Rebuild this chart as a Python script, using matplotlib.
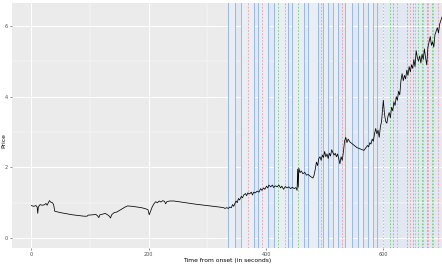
import numpy as np
import matplotlib
matplotlib.use("Agg")
import matplotlib.pyplot as plt

# price path (time in seconds, price)
t = [0, 4, 8, 10, 11, 12, 15, 18, 22, 25, 27, 29, 31, 33, 36, 38, 40, 50, 60, 70,
     80, 90, 95, 97, 105, 110, 113, 115, 117, 122, 126, 130, 133, 135, 137, 141, 146, 150, 155, 160,
     164, 172, 180, 188, 195, 199, 201, 203, 206, 209, 212, 215, 218, 221, 224, 227, 229, 231, 236, 243,
     255, 268, 280, 295, 310, 320, 328, 330, 333, 336, 338, 341, 343, 345, 347, 349, 351, 353, 355, 358,
     360, 362, 365, 367, 369, 372, 375, 377, 379, 382, 385, 388, 391, 393, 396, 398, 401, 403, 405, 408,
     411, 413, 416, 419, 422, 425, 427, 430, 433, 436, 439, 442, 445, 448, 451, 453, 454, 455, 456, 458,
     460, 463, 466, 469, 472, 476, 480, 482, 484, 486, 488, 490, 492, 494, 496, 498, 500, 502, 504, 506,
     508, 510, 512, 514, 516, 518, 520, 522, 524, 526, 528, 530, 532, 534, 536, 538, 540, 543, 546, 549,
     552, 555, 558, 561, 564, 567, 570, 573, 575, 577, 579, 581, 583, 585, 587, 589, 591, 593, 595, 597,
     599, 600, 602, 604, 606, 608, 610, 612, 614, 616, 618, 620, 622, 624, 626, 628, 630, 632, 634, 636,
     638, 640, 642, 644, 646, 648, 650, 652, 654, 656, 658, 660, 662, 664, 666, 668, 670, 672, 674, 676,
     678, 680, 682, 684, 686, 688, 690, 692, 694, 696, 698, 700]
price = [0.92, 0.90, 0.92, 0.88, 0.70, 0.88, 0.95, 0.93, 0.94, 0.98, 0.93, 1.00, 1.06, 1.02, 1.00, 0.95, 0.76, 0.72, 0.69, 0.66,
         0.64, 0.62, 0.62, 0.65, 0.66, 0.67, 0.63, 0.58, 0.66, 0.68, 0.70, 0.66, 0.62, 0.57, 0.66, 0.72, 0.74, 0.78, 0.83, 0.88,
         0.91, 0.90, 0.88, 0.86, 0.83, 0.80, 0.66, 0.75, 0.88, 0.97, 1.03, 1.00, 1.05, 1.02, 1.06, 1.04, 0.97, 1.03, 1.05, 1.05,
         1.02, 0.99, 0.96, 0.93, 0.90, 0.88, 0.86, 0.84, 0.86, 0.84, 0.88, 0.86, 0.95, 0.90, 0.98, 1.05, 1.00, 1.12, 1.08, 1.18,
         1.14, 1.22, 1.26, 1.20, 1.28, 1.25, 1.30, 1.22, 1.30, 1.28, 1.33, 1.30, 1.40, 1.35, 1.42, 1.38, 1.47, 1.42, 1.50, 1.45,
         1.50, 1.43, 1.48, 1.45, 1.50, 1.42, 1.47, 1.38, 1.46, 1.42, 1.45, 1.40, 1.44, 1.40, 1.43, 1.35, 1.95, 1.45, 1.98, 1.85,
         1.90, 1.82, 1.86, 1.78, 1.80, 1.74, 1.70, 1.78, 1.95, 2.15, 2.05, 2.25, 2.30, 2.20, 2.35, 2.28, 2.45, 2.30, 2.38, 2.25,
         2.40, 2.32, 2.50, 2.42, 2.35, 2.40, 2.30, 2.38, 2.25, 2.10, 2.30, 2.20, 2.45, 2.75, 2.85, 2.70, 2.80, 2.72, 2.68, 2.64,
         2.60, 2.56, 2.54, 2.52, 2.50, 2.48, 2.55, 2.62, 2.58, 2.70, 2.66, 2.80, 2.74, 2.95, 3.10, 2.95, 3.05, 2.85, 3.15, 3.30,
         3.70, 3.90, 3.50, 3.30, 3.25, 3.45, 3.55, 3.40, 3.70, 3.60, 3.85, 3.75, 4.00, 3.90, 4.15, 4.05, 4.45, 4.65, 4.45, 4.60,
         4.50, 4.75, 4.60, 4.85, 4.70, 4.90, 4.80, 5.05, 4.85, 5.30, 5.10, 5.00, 5.15, 4.95, 5.20, 5.05, 5.35, 5.10, 4.90, 5.40,
         5.55, 5.70, 5.45, 5.55, 5.40, 5.75, 5.85, 5.95, 5.80, 6.05, 6.15, 6.25]

# event times (seconds)
blue_events = [335, 348, 357, 379, 386, 403, 413, 438, 445, 464, 472, 488, 498, 506, 515,
               523, 535, 547, 556, 566, 574, 583, 590]
red_events = [370, 394, 433, 493, 530, 600, 624, 646, 654, 668, 676, 685, 693]
green_events = [421, 454, 612, 617, 641, 651, 659, 666, 675, 683]

fig = plt.figure(figsize=(4.42, 2.65), dpi=100)
ax = fig.add_axes([0.027, 0.064, 0.973, 0.925])
ax.set_facecolor("#EBEBEB")

# shaded event window
ax.axvspan(blue_events[0], 700, color="#E2E8F1", lw=0, zorder=0.5)
for a, b in zip(blue_events[0::2], blue_events[1::2]):
    ax.axvspan(a, b, color="#E9EDF4", lw=0, zorder=0.6)

for x in blue_events:
    ax.axvline(x, color="#8FB1DE", lw=0.6, zorder=2)
for x in red_events:
    ax.axvline(x, color="#EE9A9C", lw=0.6, ls=(0, (2, 2)), zorder=2)
for x in green_events:
    ax.axvline(x, color="#6FCB6F", lw=0.6, ls=(0, (2, 2)), zorder=2)

ax.plot(t, price, color="black", lw=0.55, zorder=3)

ax.set_xlim(-33, 700)
ax.set_ylim(-0.28, 6.65)
ax.set_xticks([0, 200, 400, 600])
ax.set_yticks([0, 2, 4, 6])
ax.set_xticks([100, 300, 500, 700], minor=True)
ax.set_yticks([1, 3, 5], minor=True)
ax.grid(which="major", color="white", lw=0.7, zorder=1)
ax.grid(which="minor", color="white", lw=0.35, zorder=1)
ax.set_axisbelow(True)
for s in ax.spines.values():
    s.set_visible(False)
ax.tick_params(which="major", length=1.5, width=0.4, color="#333333",
               labelsize=3.5, labelcolor="#4D4D4D", pad=1.2)
ax.tick_params(which="minor", length=0)
ax.set_xlabel("Time from onset (in seconds)", fontsize=4.3, labelpad=1.2)
fig.text(0.009, 0.47, "Price", rotation=90, fontsize=4.3, ha="center", va="center")

fig.savefig("out.png", dpi=100)
